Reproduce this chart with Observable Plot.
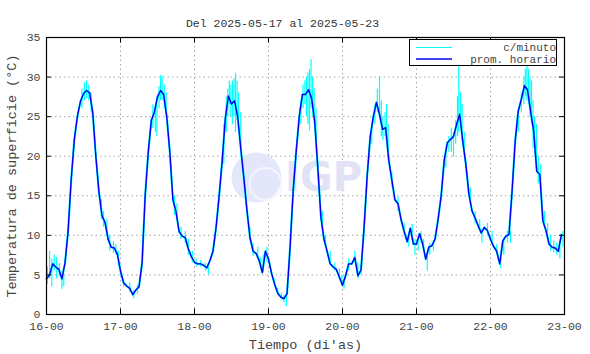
<!DOCTYPE html>
<html><head><meta charset="utf-8">
<script src="https://cdn.jsdelivr.net/npm/d3@7"></script>
<script src="https://cdn.jsdelivr.net/npm/@observablehq/plot@0.6"></script>
<style>body{margin:0;background:#fff;}</style>
</head><body><div id="chart"></div>
<script>
const title = "Del 2025-05-17 al 2025-05-23";
const xLabel = "Tiempo (di'as)";
const yLabel = "Temperatura de superficie (°C)";
const dayTickLabels = ["16-00","17-00","18-00","19-00","20-00","21-00","22-00","23-00"];
const yTicks = [0,5,10,15,20,25,30,35];
const seriesNames = ["c/minuto","prom. horario"];
const watermark = "IGP";

// hourly means, hour 0 = 16-00
const hourly = [
  4.5,5.0,6.4,6.0,5.7,4.5,6.5,10.5,17.0,22.0,25.0,26.9,27.9,28.3,28.0,25.5,20.0,15.5,12.5,11.6,9.5,8.5,8.4,7.6,
  5.5,4.0,3.6,3.3,2.5,3.1,3.5,6.5,15.0,20.5,24.5,25.6,27.5,28.3,27.8,25.0,20.5,14.5,13.0,10.5,9.9,9.7,8.3,7.3,
  6.6,6.4,6.4,6.2,5.9,6.8,8.0,11.0,15.0,19.5,24.8,27.6,26.6,27.0,25.0,21.0,17.3,13.2,9.7,8.0,7.7,6.8,5.3,8.0,
  7.0,5.2,3.8,2.7,2.2,2.0,2.6,8.5,15.6,20.7,25.1,27.8,27.8,28.4,27.3,24.3,18.5,12.3,9.5,8.0,6.4,6.0,5.7,4.7,
  3.7,4.9,6.4,6.4,7.2,4.9,5.6,11.0,17.5,22.5,25.0,26.8,25.3,23.4,23.6,19.5,17.0,14.5,14.0,12.0,10.5,9.2,10.9,8.9,
  8.9,10.2,8.9,7.0,8.5,8.7,9.5,12.0,15.0,19.5,21.7,22.1,22.5,24.0,25.3,21.9,19.0,15.2,13.1,12.2,11.2,10.3,11.0,10.6,
  9.5,8.6,8.0,6.4,9.3,9.9,10.1,15.6,21.9,25.7,27.2,28.9,28.4,25.7,23.2,18.1,17.7,11.8,10.6,8.9,8.5,8.4,8.0,10.1
];

// per-minute spread: [hour, low, high]
const minuteSpread = [
  [0.3,3.8,6],[1,4.5,8],[1.7,3.5,7],[2.5,5.5,7.5],[3.3,4.5,7.2],[4.2,4.8,6.5],[5,3.2,5.5],[5.6,3.5,5],
  [11.5,26,28.5],[12.3,27,29.3],[13,27.3,29.5],[13.7,27,29],[14.5,25.5,28],
  [17.8,12,14.5],[18.5,11,13],[19.6,10,12],[20.5,8,10],[21.7,7.7,9.2],[22.5,7.5,8.8],[23.3,6,8],
  [25,3.5,4.5],[27,2.8,4],[28.3,2,3],[29.5,2.5,3.7],
  [34.5,23.5,26.5],[35.3,23,26],[35.8,22.5,26.5],[36.5,26,28.8],[37,27,30.2],[37.5,27,30],[38.2,26,29],[38.8,25,28],
  [41.5,12.5,15],[42.3,12,14],[43.6,9.5,11],[45,9,10.5],[46,7.5,9.5],[47.3,6.5,8],
  [48.5,6,7],[50,6,6.8],[51.5,5.5,6.5],[52.5,5,6.2],
  [57.5,19,24],[58.3,23,27.5],[58.8,25,28.5],[59.3,26.5,29.5],[59.8,25,29],[60.3,24,29.5],[60.8,25,29.8],[61.3,23,30.5],[61.8,24.5,29.5],[62.3,23.5,28],[63,21,25.5],
  [66,9.5,11],[67,7.3,9],[68.5,7,8.5],[69.5,6,7.2],[70.3,5.3,7.5],[71.5,6.5,8.5],
  [74,3.5,4.5],[75,2.5,3.3],[76.2,1.8,2.7],[77,1.5,2.4],[77.8,1.0,2.8],
  [82.5,24,27],[83.2,26,29],[83.8,26.5,29.5],[84.3,25,30],[84.8,24,30.5],[85.3,23.2,31],[85.8,26,32.2],[86.3,25,30],[86.8,24.5,28.5],[87.4,22,26],
  [89.5,10.5,13],[90.5,8.5,10],[92,6.5,8],[93.5,5.5,6.5],[95,4.5,5.8],[95.8,3.5,5],
  [96.5,3.2,4.5],[98,5.5,7],[100,6.5,8],[101,4.5,6.5],[102,5,6.2],
  [105.5,21.5,24],[106.5,24,26.5],[107.3,25.5,28.5],[108,25,30],[108.6,22.5,27],[109.1,22,25],[109.8,22.5,25.5],[110.3,22,26.5],[110.8,20,24],
  [112,16,18],[114,13,14.8],[116,10,11.5],[117.5,8.5,9.8],[118.6,9.5,11.4],[119.5,7.5,9.5],
  [120.5,8,9.5],[121.5,9,10.5],[122.3,8,9.5],[123.5,5.5,7.5],[124.3,7.5,9],[125.5,8,9.3],
  [129.5,18.5,21],[130.5,20.5,22.5],[131.3,20.5,23.5],[132,19.9,23],[132.7,21.5,24.5],[133.3,22.5,27.5],[133.7,23,31.5],[134.3,23.5,28],[134.8,22,26.5],[135.5,20,23],
  [137.5,14,16],[139,11.5,13],[140.5,10.5,12],[141.2,9,10.8],[143,10,11.5],[144.5,9,10.5],[146,7.5,8.8],[147.3,5.8,7.2],
  [148.3,7.5,9.5],[149.5,9,10.5],[150.5,9,10.5],
  [153,23,25.5],[154,25.5,28],[154.8,26.5,30],[155.3,27.5,31],[155.8,27,31.5],[156.3,26.5,31],[156.8,25,30],[157.3,24,29.5],[157.8,21,27],[158.3,20.3,25],[158.9,19,24],[159.5,16.5,20],[160.3,15.5,19],
  [161.5,11,13],[162.5,9.5,11.5],[163.5,8,10],[164.5,7.8,9.3],[165.5,7.5,9],[166.5,7,8.5],[167.5,8.5,10.5]
];

const hourlyData = hourly.map((v, i) => ({t: i, v}));
const spreadData = minuteSpread.map(([t, lo, hi]) => ({t, lo, hi}));
const xTicks = dayTickLabels.map((_, i) => i * 24);
const CYAN = "#00ffff", BLUE = "#0000f0", FONT = "'Liberation Mono', 'DejaVu Sans Mono', monospace";

const chart = Plot.plot({
  width: 590, height: 354,
  marginLeft: 46, marginRight: 26, marginTop: 37, marginBottom: 40,
  style: {fontFamily: FONT, fontSize: "11.5px", color: "#444", background: "#fff"},
  x: {domain: [0, 168]},
  y: {domain: [0, 35]},
  marks: [
    Plot.gridX(xTicks.slice(1, -1), {stroke: "#a6a6a6", strokeOpacity: 1, strokeDasharray: "1.5,3"}),
    Plot.gridY(yTicks.slice(1, -1), {stroke: "#a6a6a6", strokeOpacity: 1, strokeDasharray: "1.5,3"}),
    Plot.dot([0], {frameAnchor: "middle", dx: -49, dy: 1.5, r: 25, fill: "#e4e6fa"}),
    Plot.dot([0], {frameAnchor: "middle", dx: -40, dy: 8, r: 16, fill: "none", stroke: "#f4f5ff", strokeWidth: 2}),
    Plot.text([watermark], {frameAnchor: "middle", dx: 18, dy: 2, fontSize: 40, fontWeight: "bold", fontFamily: "'DejaVu Sans', sans-serif", fill: "#e2e2f6"}),
    Plot.line(hourlyData, {x: "t", y: "v", stroke: CYAN, strokeWidth: 2.1}),
    Plot.ruleX(spreadData, {x: "t", y1: "lo", y2: "hi", stroke: CYAN, strokeWidth: 1.2}),
    Plot.line(hourlyData, {x: "t", y: "v", stroke: BLUE, strokeWidth: 1.4}),
    Plot.ruleX(xTicks, {y1: 0, y2: 0.7, stroke: "black"}),
    Plot.ruleX(xTicks, {y1: 35, y2: 34.3, stroke: "black"}),
    Plot.ruleY(yTicks, {x1: 0, x2: 1.6, stroke: "black"}),
    Plot.ruleY(yTicks, {x1: 168, x2: 166.4, stroke: "black"}),
    Plot.frame({stroke: "black", strokeWidth: 1.2}),
    Plot.axisX(xTicks, {tickSize: 0, tickPadding: 7, tickFormat: d => dayTickLabels[d / 24], label: xLabel, labelAnchor: "center", labelArrow: "none", labelOffset: 34}),
    Plot.axisY(yTicks, {tickSize: 0, tickPadding: 6, label: yLabel, labelAnchor: "center", labelArrow: "none", labelOffset: 40}),
    Plot.text([title], {frameAnchor: "top", dx: -23, dy: -19, fontSize: 11.5, fill: "#333"})
  ]
});

const svg = d3.select(chart);
svg.selectAll('[aria-label="x-axis label"] text, [aria-label="y-axis label"] text').attr("font-size", "13.5px");

// legend
const lg = svg.append("g").attr("font-family", FONT).attr("font-size", "11px").attr("fill", "#444");
lg.append("rect").attr("x", 409.5).attr("y", 39.5).attr("width", 147).attr("height", 26).attr("fill", "#fff").attr("stroke", "black");
const rows = [{name: seriesNames[0], color: CYAN, y: 47.5}, {name: seriesNames[1], color: BLUE, y: 59}];
rows.forEach(r => {
  lg.append("line").attr("x1", 416).attr("x2", 452).attr("y1", r.y).attr("y2", r.y).attr("stroke", r.color).attr("stroke-width", r.color === BLUE ? 1.4 : 1.2);
  lg.append("text").attr("x", 556).attr("y", r.y).attr("dy", "0.33em").attr("text-anchor", "end").text(r.name);
});

document.getElementById("chart").appendChild(chart);
</script>
</body></html>
